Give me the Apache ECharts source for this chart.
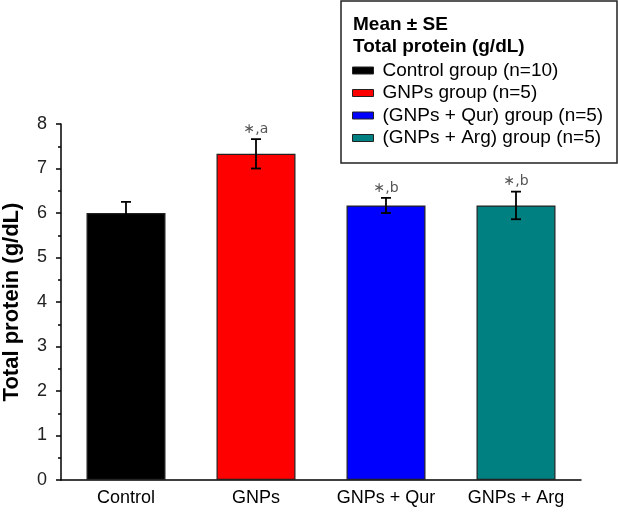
<!DOCTYPE html>
<html>
<head>
<meta charset="utf-8">
<script src="https://cdn.jsdelivr.net/npm/echarts@6/dist/echarts.min.js"></script>
<style>html,body{margin:0;padding:0;background:#fff}#main{width:618px;height:515px}</style>
</head>
<body>
<div id="main"></div>
<script>
// data
var categories = ['Control', 'GNPs', 'GNPs + Qur', 'GNPs + Arg'];
var groupNames = ['Control group (n=10)', 'GNPs group (n=5)', '(GNPs + Qur) group (n=5)', '(GNPs + Arg) group (n=5)'];
var means = [6.0, 7.33, 6.17, 6.17];
var errors = [0.25, 0.33, 0.17, 0.31];
var marks = ['', '∗,a', '∗,b', '∗,b'];
var colors = ['#000000', '#ff0000', '#0000ff', '#008080'];
var yTicks = [0, 1, 2, 3, 4, 5, 6, 7, 8];

var myChart = echarts.init(document.getElementById('main'));

var barSeries = groupNames.map(function (name, i) {
    return {
        name: name,
        type: 'bar',
        barWidth: 79,
        barGap: '-100%',
        itemStyle: { color: colors[i], borderColor: '#222', borderWidth: 1.2 },
        data: categories.map(function (c, j) { return j === i ? means[i] : '-'; })
    };
});

var errData = categories.map(function (c, i) {
    return [i, means[i] - errors[i], means[i] + errors[i], i];
});

option = {
    animation: false,
    grid: { left: 61, right: 37, top: 124, bottom: 35, outerBoundsMode: 'none' },
    legend: {
        orient: 'vertical',
        left: 352,
        top: 61,
        icon: 'rect',
        itemWidth: 21,
        itemHeight: 7,
        itemGap: 3.5,
        padding: 0,
        itemStyle: { borderColor: '#222', borderWidth: 1 },
        textStyle: { fontSize: 19, lineHeight: 19, color: '#000', fontFamily: 'Liberation Sans', padding: [0, 0, 0, 4] },
        data: groupNames
    },
    graphic: [
        {
            type: 'rect',
            shape: { x: 341, y: 1, width: 276, height: 162 },
            style: { fill: 'none', stroke: '#222', lineWidth: 1.5 },
            z: 100
        },
        {
            type: 'text', left: 353, top: 15,
            style: { text: 'Mean ± SE', font: 'bold 19px "Liberation Sans"', fill: '#000' }
        },
        {
            type: 'text', left: 353, top: 37,
            style: { text: 'Total protein (g/dL)', font: 'bold 19px "Liberation Sans"', fill: '#000' }
        }
    ],
    xAxis: {
        type: 'category',
        data: categories,
        axisLine: { lineStyle: { color: '#000', width: 1.5 } },
        axisTick: { alignWithLabel: true, length: 5, lineStyle: { color: '#000', width: 1.5 } },
        axisLabel: { fontSize: 18, color: '#000', margin: 9, fontFamily: 'Liberation Sans' }
    },
    yAxis: {
        type: 'value',
        min: 0,
        max: 8,
        interval: 1,
        name: 'Total protein (g/dL)',
        nameLocation: 'middle',
        nameGap: 38,
        nameTextStyle: { fontSize: 22, fontWeight: 'bold', color: '#000', fontFamily: 'Liberation Sans' },
        axisLine: { show: true, lineStyle: { color: '#000', width: 1.5 } },
        axisTick: { show: true, length: 5, lineStyle: { color: '#000', width: 1.5 } },
        minorTick: { show: true, splitNumber: 2, length: 3, lineStyle: { color: '#000', width: 1.5 } },
        splitLine: { show: false },
        axisLabel: {
            fontSize: 18, color: '#222', margin: 14, fontFamily: 'Liberation Sans',
            formatter: function (v) { return yTicks.indexOf(v) >= 0 ? String(v) : ''; }
        }
    },
    series: barSeries.concat([{
        type: 'custom',
        data: errData,
        z: 10,
        renderItem: function (params, api) {
            var x = api.coord([api.value(0), 0])[0];
            var lo = api.coord([api.value(0), api.value(1)])[1];
            var hi = api.coord([api.value(0), api.value(2)])[1];
            var idx = api.value(3);
            var cap = 5;
            var st = { stroke: '#000', lineWidth: 1.8 };
            return {
                type: 'group',
                children: [
                    { type: 'line', shape: { x1: x, y1: lo, x2: x, y2: hi }, style: st },
                    { type: 'line', shape: { x1: x - cap, y1: hi, x2: x + cap, y2: hi }, style: st },
                    { type: 'line', shape: { x1: x - cap, y1: lo, x2: x + cap, y2: lo }, style: st },
                    {
                        type: 'text', x: x, y: hi - 3,
                        style: {
                            text: marks[idx], align: 'center', verticalAlign: 'bottom',
                            font: '14px "DejaVu Sans"', fill: '#555'
                        }
                    }
                ]
            };
        }
    }])
};
myChart.setOption(option);
</script>
</body>
</html>
